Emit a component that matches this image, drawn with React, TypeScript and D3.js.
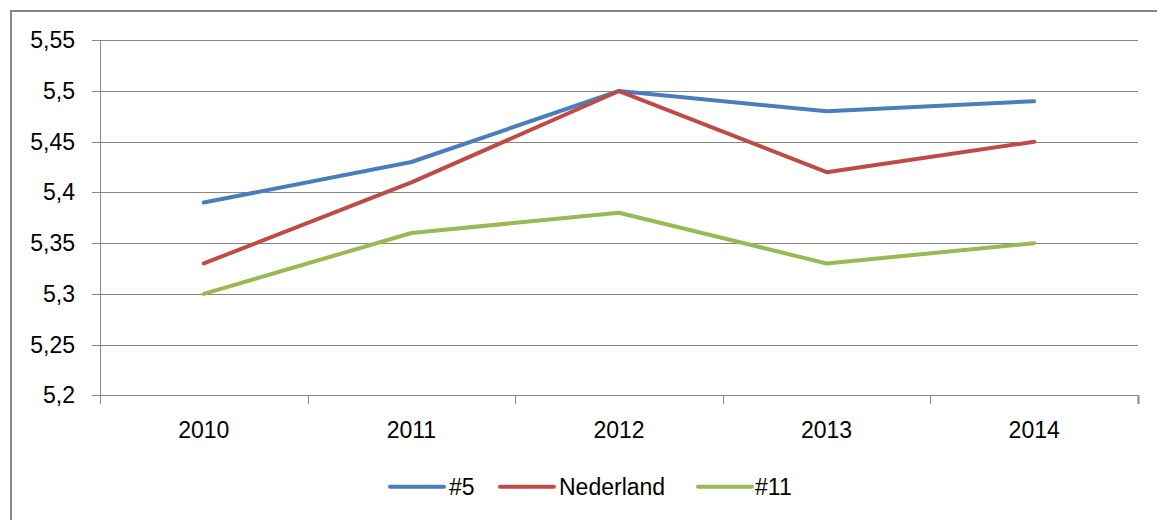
import React from "react";
import * as d3 from "d3";

const years = ["2010", "2011", "2012", "2013", "2014"];
const seriesNames = ["#5", "Nederland", "#11"];
const seriesColors = ["#4A7EBB", "#BE4B48", "#98B954"];
const valuesS5 = [5.39, 5.43, 5.5, 5.48, 5.49];
const valuesNL = [5.33, 5.41, 5.5, 5.42, 5.45];
const valuesS11 = [5.3, 5.36, 5.38, 5.33, 5.35];
const yTicks = [5.2, 5.25, 5.3, 5.35, 5.4, 5.45, 5.5, 5.55];

const W = 1157;
const H = 520;
const left = 100;
const right = 1138;
const top = 40.3;
const bottom = 395.3;
const FONT = "'Liberation Sans', Arial, sans-serif";

export default function App() {
  const x = d3.scaleBand<string>().domain(years).range([left, right]).paddingInner(0).paddingOuter(0);
  const y = d3.scaleLinear().domain([5.2, 5.55]).range([bottom, top]);
  const line = d3
    .line<number>()
    .x((_, i) => (x(years[i]) as number) + x.bandwidth() / 2)
    .y((d) => y(d));
  const allSeries = [valuesS5, valuesNL, valuesS11];
  const fmt = (v: number) => String(+v.toFixed(2)).replace(".", ",");
  const boundaries = [...years.map((yr) => x(yr) as number), right];

  const legendItems = [
    { lx: 390, tx: 449 },
    { lx: 500, tx: 559 },
    { lx: 698, tx: 755 },
  ];
  const legendY = 486.7;

  return (
    <svg width={W} height={H} style={{ position: "absolute", left: 0, top: 0, background: "#fff" }}>
      <rect x={0} y={0} width={W} height={H} fill="#fff" />
      <rect x={11} y={11} width={W + 50} height={H + 50} fill="none" stroke="#868686" strokeWidth={2} />
      {yTicks.map((t) => (
        <g key={t}>
          <line x1={92} x2={right} y1={Math.round(y(t)) + 0.5} y2={Math.round(y(t)) + 0.5} stroke="#868686" strokeWidth={1} />
          <text x={75} y={y(t) + 8} textAnchor="end" fontFamily={FONT} fontSize={23} fill="#000">
            {fmt(t)}
          </text>
        </g>
      ))}
      <line x1={left + 0.5} x2={left + 0.5} y1={top} y2={404} stroke="#868686" strokeWidth={1} />
      {boundaries.map((b, i) => (
        <line key={i} x1={Math.round(b) + 0.5} x2={Math.round(b) + 0.5} y1={bottom} y2={404} stroke="#868686" strokeWidth={i === boundaries.length - 1 ? 2 : 1} />
      ))}
      {years.map((yr) => (
        <text key={yr} x={(x(yr) as number) + x.bandwidth() / 2} y={437.5} textAnchor="middle" fontFamily={FONT} fontSize={23} fill="#000">
          {yr}
        </text>
      ))}
      {allSeries.map((s, i) => (
        <path key={i} d={line(s) || ""} fill="none" stroke={seriesColors[i]} strokeWidth={4} strokeLinecap="round" strokeLinejoin="round" />
      ))}
      {seriesNames.map((n, i) => (
        <g key={n}>
          <line x1={legendItems[i].lx} x2={legendItems[i].lx + 54} y1={legendY} y2={legendY} stroke={seriesColors[i]} strokeWidth={4} strokeLinecap="round" />
          <text x={legendItems[i].tx} y={legendY + 8.5} fontFamily={FONT} fontSize={23} fill="#000">
            {n}
          </text>
        </g>
      ))}
    </svg>
  );
}
